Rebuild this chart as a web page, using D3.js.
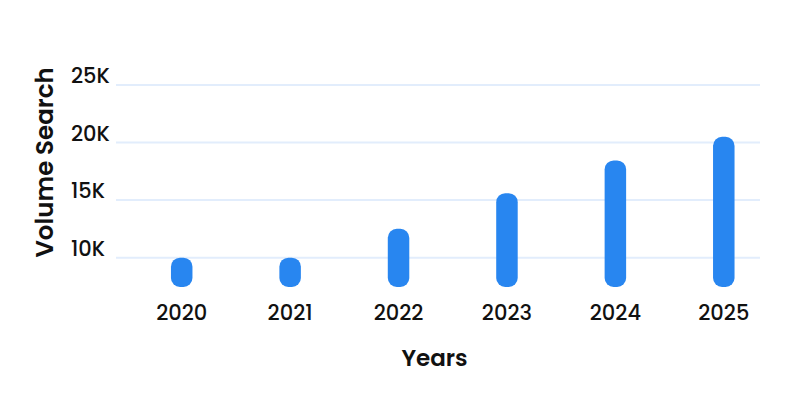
<!DOCTYPE html>
<html><head><meta charset="utf-8">
<script src="https://cdn.jsdelivr.net/npm/d3@7"></script>
<style>
body{margin:0;background:#fff;}
text{font-family:"Poppins","Inter","Noto Sans",sans-serif;fill:#111;}
</style></head>
<body>
<svg id="chart" width="800" height="400"></svg>
<script>
const years = ["2020","2021","2022","2023","2024","2025"];
const volumes = [10000, 10000, 12500, 15600, 18450, 20500];
const yTicks = [10000, 15000, 20000, 25000];
const yTickLabels = ["10K","15K","20K","25K"];

const svg = d3.select("#chart");
const x = d3.scaleBand().domain(years).range([127.5, 778]);
const y = d3.scaleLinear().domain([7450, 25000]).range([287, 85]);
const barW = 21.5;

// gridlines
svg.append("g").selectAll("line").data(yTicks).join("line")
  .attr("x1", 116).attr("x2", 760)
  .attr("y1", d => y(d)).attr("y2", d => y(d))
  .attr("stroke", "#e2edfc").attr("stroke-width", 2);

// y tick labels
svg.append("g").selectAll("text").data(yTicks).join("text")
  .attr("x", 71).attr("y", d => y(d) - 2)
  .attr("font-size", 21).attr("font-weight", 500)
  .text((d, i) => yTickLabels[i]);

// bars
svg.append("g").selectAll("rect").data(years).join("rect")
  .attr("x", d => x(d) + x.bandwidth() / 2 - barW / 2)
  .attr("width", barW)
  .attr("y", (d, i) => y(volumes[i]))
  .attr("height", (d, i) => y(7450) - y(volumes[i]))
  .attr("rx", 9).attr("ry", 9)
  .attr("fill", "#2886f0");

// x labels
svg.append("g").selectAll("text").data(years).join("text")
  .attr("x", d => x(d) + x.bandwidth() / 2)
  .attr("y", 320)
  .attr("text-anchor", "middle")
  .attr("font-size", 21).attr("font-weight", 500)
  .text(d => d);

// axis titles
svg.append("text").attr("x", 434.5).attr("y", 366)
  .attr("text-anchor", "middle").attr("font-size", 23).attr("font-weight", 600)
  .text("Years");
svg.append("text")
  .attr("transform", "translate(53,162.5) rotate(-90)")
  .attr("text-anchor", "middle").attr("font-size", 24.5).attr("font-weight", 600)
  .text("Volume Search");
</script>
</body></html>
